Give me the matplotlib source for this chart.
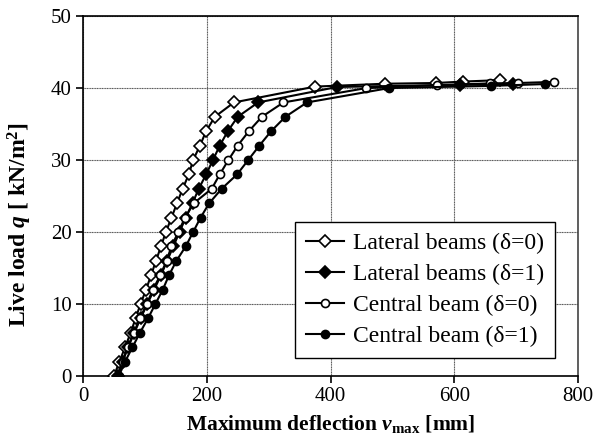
import matplotlib
matplotlib.use("Agg")
import matplotlib.pyplot as plt

plt.rcParams['font.family'] = ['Liberation Serif', 'DejaVu Serif']
plt.rcParams['mathtext.fontset'] = 'custom'
plt.rcParams['mathtext.rm'] = 'Liberation Serif:bold'
plt.rcParams['mathtext.it'] = 'Liberation Serif:italic:bold'
plt.rcParams['mathtext.bf'] = 'Liberation Serif:bold'

# Load steps (kN/m^2) and max deflections (mm) for each beam series
q_lat0 = [0, 2, 4, 6, 8, 10, 12, 14, 16, 18, 20, 22, 24, 26, 28, 30, 32, 34, 36, 38,
          40.2, 40.6, 40.7, 40.9, 41.1]
v_lat0 = [50, 59, 68, 77, 85, 93, 102, 110, 118, 126, 134, 143, 152, 161, 171, 178, 189, 199, 213, 244,
          375, 488, 570, 614, 674]

q_lat1 = [0, 2, 4, 6, 8, 10, 12, 14, 16, 18, 20, 22, 24, 26, 28, 30, 32, 34, 36, 38,
          40.15, 40.45, 40.5]
v_lat1 = [56, 64, 73, 83, 93, 104, 115, 126, 136, 146, 156, 166, 177, 187, 199, 210, 221, 234, 250, 283,
          411, 609, 695]

q_cen0 = [0, 2, 4, 6, 8, 10, 12, 14, 16, 18, 20, 22, 24, 26, 28, 30, 32, 34, 36, 38,
          40.0, 40.4, 40.65, 40.7, 40.85]
v_cen0 = [57, 64, 72, 82, 92, 103, 113, 125, 135, 143, 154, 165, 179, 208, 221, 235, 250, 268, 289, 324,
          458, 572, 658, 703, 761]

q_cen1 = [0, 2, 4, 6, 8, 10, 12, 14, 16, 18, 20, 22, 24, 26, 28, 30, 32, 34, 36, 38,
          40.0, 40.3, 40.55]
v_cen1 = [58, 68, 80, 92, 105, 117, 129, 139, 151, 166, 178, 190, 204, 224, 249, 267, 285, 304, 327, 362,
          495, 660, 746]

labels = ['Lateral beams (δ=0)', 'Lateral beams (δ=1)',
          'Central beam (δ=0)', 'Central beam (δ=1)']

fig = plt.figure(figsize=(6.04, 4.46), dpi=100)
ax = fig.add_axes([0.1374, 0.157, 0.8196, 0.807])

common = dict(color='black', lw=1.5, mec='black', mew=1.2, zorder=3)
ax.plot(v_lat0, q_lat0, marker='D', ms=6, mfc='white', label=labels[0], **common)
ax.plot(v_lat1, q_lat1, marker='D', ms=6, mfc='black', label=labels[1], **common)
ax.plot(v_cen0, q_cen0, marker='o', ms=5.8, mfc='white', label=labels[2], **common)
ax.plot(v_cen1, q_cen1, marker='o', ms=5.8, mfc='black', label=labels[3], **common)

ax.set_xlim(0, 800)
ax.set_ylim(0, 50)
ax.set_xticks([0, 200, 400, 600, 800])
ax.set_yticks([0, 10, 20, 30, 40, 50])
ax.grid(True, color='#555555', lw=0.8, ls=(0, (1, 0.5)))
ax.set_axisbelow(True)
ax.tick_params(direction='out', length=5, width=1.2, labelsize=15, colors='black', pad=3)
for s in ax.spines.values():
    s.set_linewidth(1.2)
ax.spines['right'].set_color('#444444')

ax.set_xlabel(r'Maximum deflection $\mathit{v}_{\mathrm{max}}$ [mm]',
              fontsize=15.5, fontweight='bold', labelpad=5)
ax.set_ylabel(r'Live load $\mathit{q}$ [ kN/m$^{2}$]',
              fontsize=17, fontweight='bold')
ax.yaxis.set_label_coords(-0.098, 0.42)

leg = ax.legend(loc='lower right', bbox_to_anchor=(0.9535, 0.05), borderaxespad=0,
                fontsize=17, frameon=True, fancybox=False, edgecolor='black',
                framealpha=1, handlelength=1.6, borderpad=0.45, labelspacing=0.4,
                handletextpad=0.4)
leg.get_frame().set_linewidth(1.0)

fig.savefig('out.png', dpi=100)
